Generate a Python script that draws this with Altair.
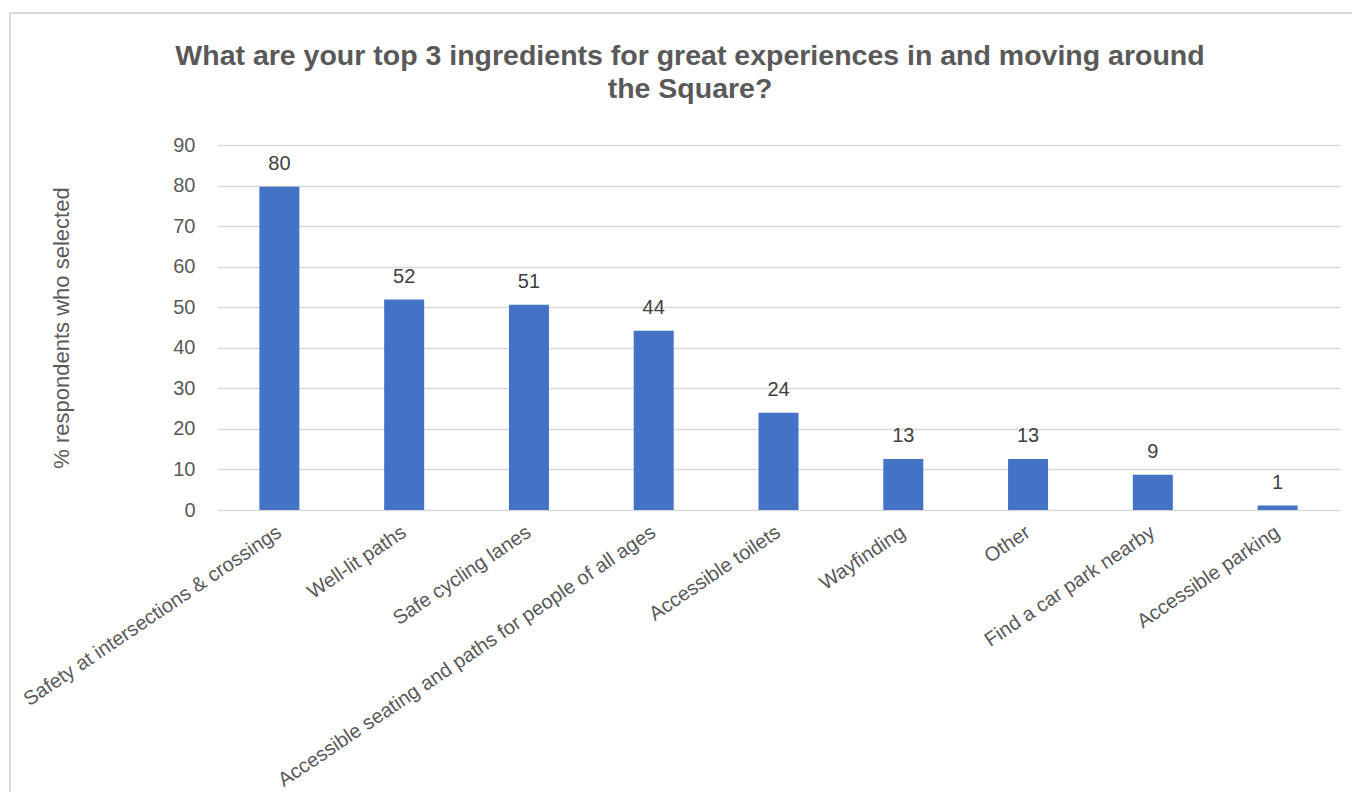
import altair as alt
import pandas as pd

categories = [
    "Safety at intersections & crossings",
    "Well-lit paths",
    "Safe cycling lanes",
    "Accessible seating and paths for people of all ages",
    "Accessible toilets",
    "Wayfinding",
    "Other",
    "Find a car park nearby",
    "Accessible parking",
]
values = [79.7, 51.9, 50.6, 44.2, 24.0, 12.6, 12.6, 8.7, 1.1]
labels = ["80", "52", "51", "44", "24", "13", "13", "9", "1"]
y_ticks = [0, 10, 20, 30, 40, 50, 60, 70, 80, 90]
title_lines = [
    "What are your top 3 ingredients for great experiences in and moving around",
    "the Square?",
]

df = pd.DataFrame({"category": categories, "value": values, "label": labels})

FONT = "Liberation Sans, Arial"
W, H = 1123, 365
PAD_L, PAD_T = 209, 137

x_enc = alt.X(
    "category:N",
    sort=categories,
    scale=alt.Scale(paddingInner=0, paddingOuter=0),
    axis=alt.Axis(
        title=None,
        labelAngle=-34,
        labelAlign="right",
        labelBaseline="middle",
        labelFontSize=20,
        labelColor="#595959",
        labelFont=FONT,
        labelPadding=20,
        ticks=False,
        domain=False,
        labelLimit=600,
    ),
)

bars = alt.Chart(df).mark_bar(size=40, color="#4472C4").encode(
    x=x_enc,
    y=alt.Y(
        "value:Q",
        scale=alt.Scale(domain=[0, 90], nice=False),
        axis=alt.Axis(
            values=y_ticks,
            title="% respondents who selected",
            titleFont=FONT,
            titleFontSize=22,
            titleFontWeight="normal",
            titleColor="#595959",
            titlePadding=99,
            labelFont=FONT,
            labelFontSize=20,
            labelColor="#595959",
            labelPadding=22,
            ticks=False,
            domain=False,
            grid=True,
            gridColor="#d9d9d9",
            gridWidth=1.5,
        ),
    ),
)

text = alt.Chart(df).mark_text(
    font=FONT, fontSize=20, color="#404040", dy=-23, baseline="middle"
).encode(
    x=alt.X("category:N", sort=categories),
    y="value:Q",
    text="label:N",
)

title = alt.Chart(pd.DataFrame({"k": [0]})).mark_text(
    font=FONT,
    fontSize=28.5,
    fontWeight="bold",
    color="#595959",
    align="center",
    baseline="alphabetic",
    lineHeight=33,
).encode(
    x=alt.value(473),
    y=alt.value(-80),
    text=alt.value(title_lines),
)

border = alt.Chart(pd.DataFrame({"k": [0]})).mark_rect(
    fill=None, stroke="#d9d9d9", strokeWidth=2
).encode(
    x=alt.value(-207), x2=alt.value(W + 40), y=alt.value(-132), y2=alt.value(H + 400)
)

chart = (
    alt.layer(border, bars, text, title)
    .properties(
        width=W,
        height=H,
        padding={"left": PAD_L, "top": PAD_T, "right": 12, "bottom": 282},
        autosize=alt.AutoSizeParams(type="none"),
    )
    .configure_view(stroke=None)
)

chart.save("out.html", embed_options={"renderer": "svg", "actions": False})
